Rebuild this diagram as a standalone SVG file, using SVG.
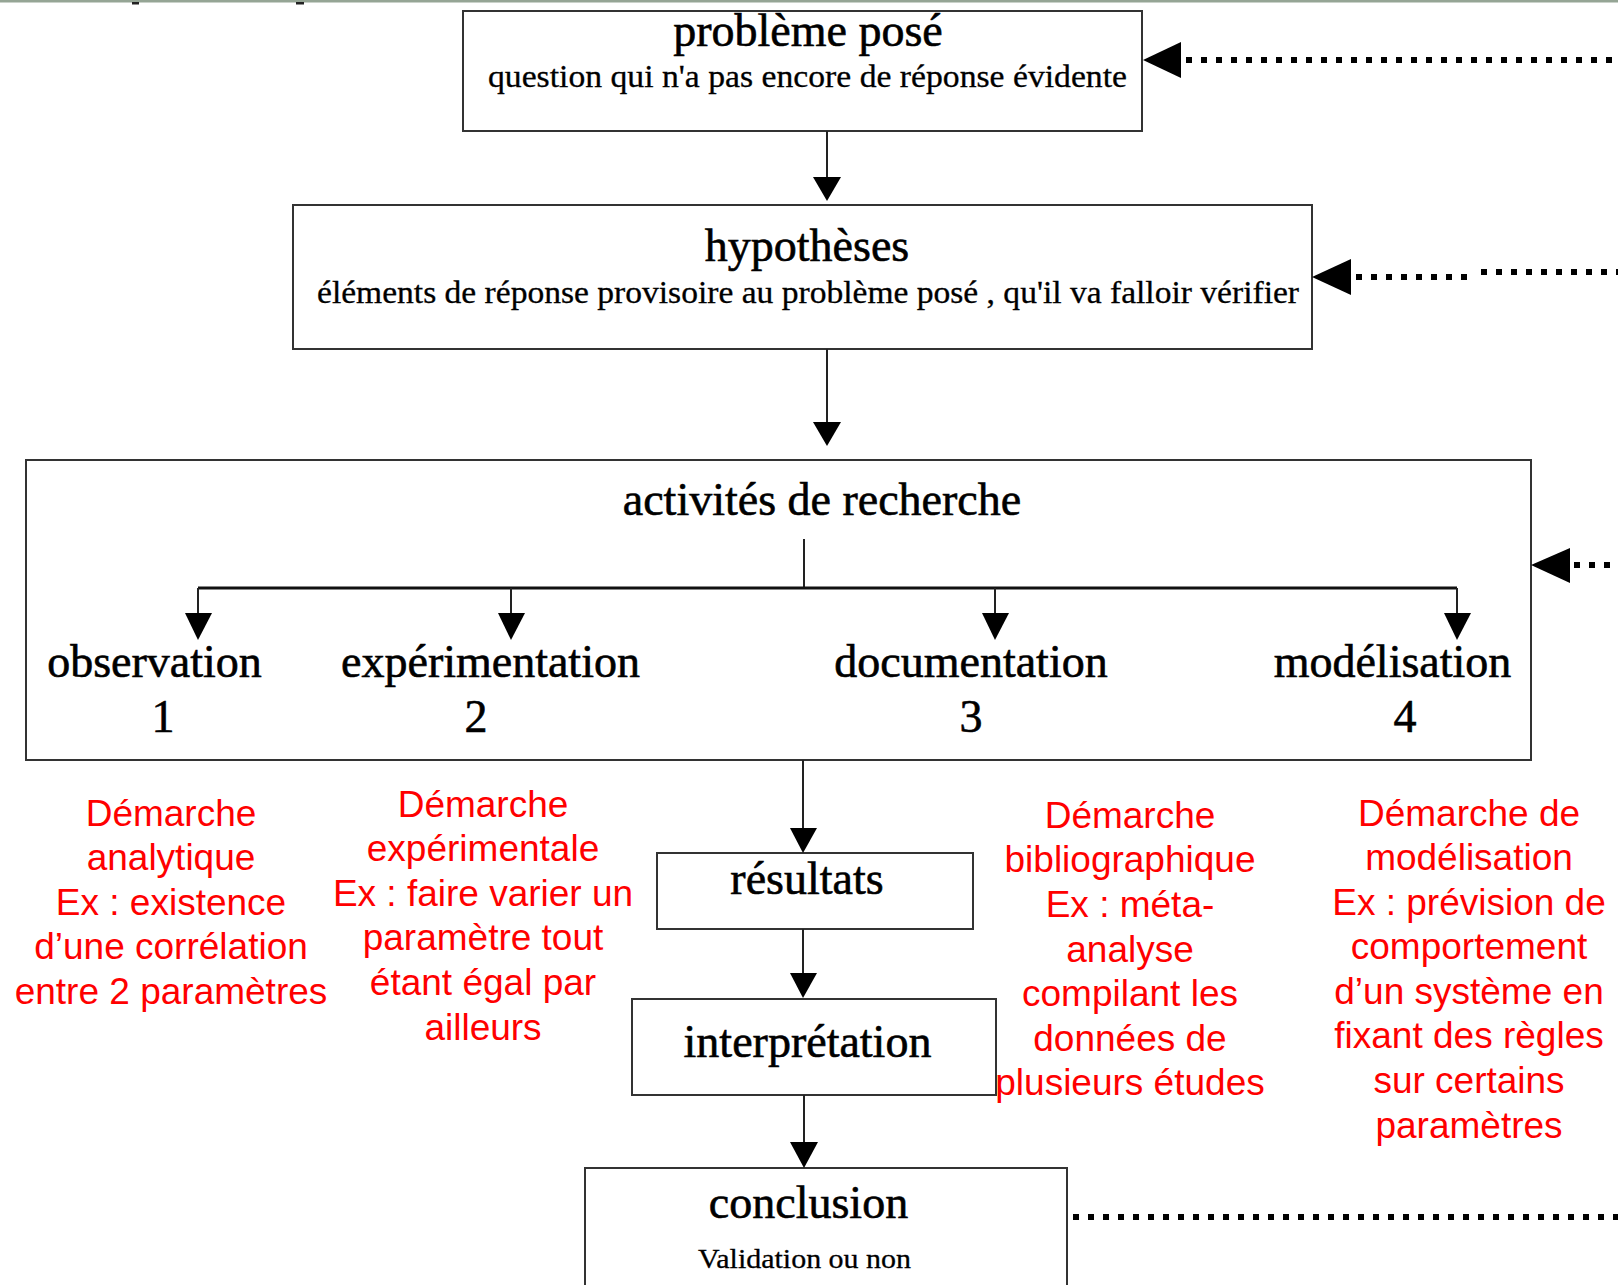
<svg xmlns="http://www.w3.org/2000/svg" width="1618" height="1285" viewBox="0 0 1618 1285">
<style>
.box{fill:#fff;stroke:#333;stroke-width:2}
.t{font-family:"Liberation Serif","Times New Roman",serif;font-size:46px;fill:#000;stroke:#000;stroke-width:0.6;text-anchor:middle}
.s{font-family:"Liberation Serif","Times New Roman",serif;font-size:31px;fill:#000;stroke:#000;stroke-width:0.3;text-anchor:middle}
.r{font-family:"Liberation Sans",Arial,sans-serif;font-size:37px;fill:#ff0000;text-anchor:middle}
.ln{stroke:#222;stroke-width:2;fill:none}
.dot{stroke:#000;stroke-width:6;stroke-dasharray:6 9;fill:none}
.ah{fill:#000}
</style>
<rect x="0" y="0" width="1618" height="2.5" fill="#95a595"/>
<rect x="132" y="2" width="7" height="2.5" fill="#222"/>
<rect x="296" y="2" width="8" height="2.5" fill="#222"/>

<g id="probleme">
<rect class="box" x="463" y="11" width="679" height="120"/>
<text class="t" x="808" y="46">problème posé</text>
<text class="s" x="807.5" y="87" textLength="639" lengthAdjust="spacingAndGlyphs">question qui n'a pas encore de réponse évidente</text>
</g>

<g id="hypotheses">
<rect class="box" x="293" y="205" width="1019" height="144"/>
<text class="t" x="807" y="261">hypothèses</text>
<text class="s" x="808" y="303" textLength="982" lengthAdjust="spacingAndGlyphs">éléments de réponse provisoire au problème posé , qu'il va falloir vérifier</text>
</g>

<g id="activites">
<rect class="box" x="26" y="460" width="1505" height="300"/>
<text class="t" x="822" y="515">activités de recherche</text>
</g>

<g id="observation">
<text class="t" x="154.5" y="677">observation</text>
<text class="t" x="163" y="732">1</text>
</g>
<g id="experimentation">
<text class="t" x="490.5" y="677">expérimentation</text>
<text class="t" x="476" y="732">2</text>
</g>
<g id="documentation">
<text class="t" x="971" y="677">documentation</text>
<text class="t" x="971" y="732">3</text>
</g>
<g id="modelisation">
<text class="t" x="1392.5" y="677">modélisation</text>
<text class="t" x="1405" y="732">4</text>
</g>

<g id="resultats">
<rect class="box" x="657" y="853" width="316" height="76"/>
<text class="t" x="807" y="894">résultats</text>
</g>
<g id="interpretation">
<rect class="box" x="632" y="999" width="364" height="96"/>
<text class="t" x="807.5" y="1057">interprétation</text>
</g>
<g id="conclusion">
<rect class="box" x="585" y="1168" width="482" height="140"/>
<text class="t" x="808.5" y="1218">conclusion</text>
<text class="s" x="804.5" y="1268" style="font-size:28px" textLength="213" lengthAdjust="spacingAndGlyphs">Validation ou non</text>
</g>

<g id="note1">
<text class="r" x="171" y="826">Démarche</text>
<text class="r" x="171" y="870">analytique</text>
<text class="r" x="171" y="915">Ex : existence</text>
<text class="r" x="171" y="959">d’une corrélation</text>
<text class="r" x="171" y="1004">entre 2 paramètres</text>
</g>
<g id="note2">
<text class="r" x="483" y="817">Démarche</text>
<text class="r" x="483" y="861">expérimentale</text>
<text class="r" x="483" y="906">Ex : faire varier un</text>
<text class="r" x="483" y="950">paramètre tout</text>
<text class="r" x="483" y="995">étant égal par</text>
<text class="r" x="483" y="1040">ailleurs</text>
</g>
<g id="note3">
<text class="r" x="1130" y="828">Démarche</text>
<text class="r" x="1130" y="872">bibliographique</text>
<text class="r" x="1130" y="917">Ex : méta-</text>
<text class="r" x="1130" y="962">analyse</text>
<text class="r" x="1130" y="1006">compilant les</text>
<text class="r" x="1130" y="1051">données de</text>
<text class="r" x="1130" y="1095">plusieurs études</text>
</g>
<g id="note4">
<text class="r" x="1469" y="826">Démarche de</text>
<text class="r" x="1469" y="870">modélisation</text>
<text class="r" x="1469" y="915">Ex : prévision de</text>
<text class="r" x="1469" y="959">comportement</text>
<text class="r" x="1469" y="1004">d’un système en</text>
<text class="r" x="1469" y="1048">fixant des règles</text>
<text class="r" x="1469" y="1093">sur certains</text>
<text class="r" x="1469" y="1138">paramètres</text>
</g>

<g id="connectors">
<line class="ln" x1="827" y1="131" x2="827" y2="180"/>
<polygon class="ah" points="813,177 841,177 827,201"/>
<line class="ln" x1="827" y1="349" x2="827" y2="425"/>
<polygon class="ah" points="813,422 841,422 827,446"/>
<line class="ln" x1="804" y1="539" x2="804" y2="588"/>
<line x1="198" y1="588" x2="1457" y2="588" stroke="#111" stroke-width="3"/>
<line class="ln" x1="198" y1="588" x2="198" y2="616"/>
<line class="ln" x1="511" y1="588" x2="511" y2="616"/>
<line class="ln" x1="995" y1="588" x2="995" y2="616"/>
<line class="ln" x1="1457" y1="588" x2="1457" y2="616"/>
<polygon class="ah" points="185,613 212,613 198,640"/>
<polygon class="ah" points="498,613 525,613 511,640"/>
<polygon class="ah" points="982,613 1009,613 995,640"/>
<polygon class="ah" points="1444,613 1471,613 1457,640"/>
<line class="ln" x1="803" y1="760" x2="803" y2="831"/>
<polygon class="ah" points="790,828 817,828 803,853"/>
<line class="ln" x1="803" y1="929" x2="803" y2="976"/>
<polygon class="ah" points="790,973 817,973 803,998"/>
<line class="ln" x1="804" y1="1095" x2="804" y2="1145"/>
<polygon class="ah" points="790,1142 818,1142 804,1168"/>
<polygon class="ah" points="1143,60 1181,42 1181,78"/>
<line class="dot" x1="1186" y1="60" x2="1618" y2="60"/>
<polygon class="ah" points="1312,277 1351,259 1351,295"/>
<line class="dot" x1="1356" y1="277" x2="1476" y2="277"/>
<line class="dot" x1="1481" y1="272" x2="1618" y2="272"/>
<polygon class="ah" points="1531,565 1570,548 1570,583"/>
<line class="dot" x1="1574" y1="565" x2="1618" y2="565"/>
<line class="dot" x1="1073" y1="1217" x2="1618" y2="1217"/>
</g>
</svg>
